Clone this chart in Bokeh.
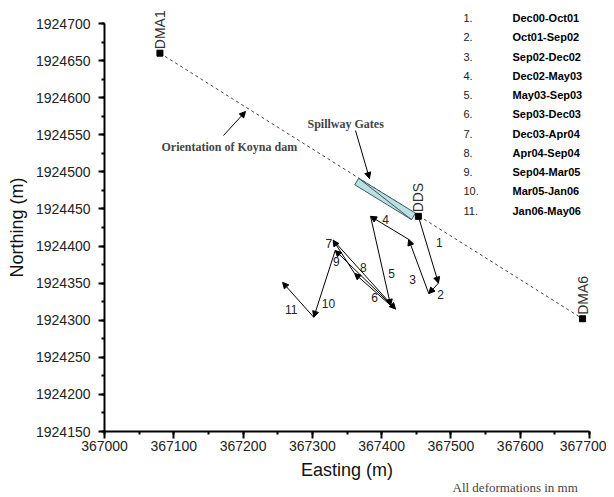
import numpy as np
from bokeh.plotting import figure
from bokeh.models import (Arrow, NormalHead, Label, ColumnDataSource, Range1d,
                          SingleIntervalTicker, BasicTickFormatter)
from bokeh.embed import file_html
from bokeh.resources import INLINE

# ---------------- data ----------------
periods = ["Dec00-Oct01", "Oct01-Sep02", "Sep02-Dec02", "Dec02-May03", "May03-Sep03",
           "Sep03-Dec03", "Dec03-Apr04", "Apr04-Sep04", "Sep04-Mar05", "Mar05-Jan06",
           "Jan06-May06"]
station_names = ["DMA1", "DDS", "DMA6"]
station_e = [367080, 367453, 367690]
station_n = [1924660, 1924440, 1924302]
dam_e = [367080, 367690]
dam_n = [1924660, 1924302]
spill_e = [367364, 367446]
spill_n = [1924487, 1924440]
# cumulative displacement path of DDS (start = DDS)
path_e = [367453, 367482, 367468, 367439, 367384, 367413, 367361, 367330, 367420, 367333, 367302, 367257]
path_n = [1924440, 1924350, 1924336, 1924409, 1924440, 1924320, 1924363, 1924408, 1924315, 1924394, 1924304, 1924351]
x_ticks_interval = 100
y_ticks_interval = 50
X0, X1, Y0, Y1 = 367000, 367700, 1924150, 1924700   # axis extents

# ---------------- layout ----------------
W, H = 606, 495
AX_L, AX_R, AX_T, AX_B = 104, 589, 23, 431          # axis box in canvas px
kx = (AX_R - AX_L) / (X1 - X0)
ky = (AX_B - AX_T) / (Y1 - Y0)
xs = X0 - AX_L / kx
xe = xs + W / kx
yt = Y1 + AX_T / ky
yb = yt - H / ky

def px2d(px, py):
    return xs + px / kx, yt - py / ky

p = figure(width=W, height=H, x_range=Range1d(xs, xe), y_range=Range1d(yb, yt),
           output_backend="svg", toolbar_location=None,
           min_border_left=0, min_border_right=0, min_border_top=0, min_border_bottom=0)
p.xgrid.visible = False
p.ygrid.visible = False
p.outline_line_color = None
p.background_fill_color = "white"
p.border_fill_color = "white"

FONT = "Liberation Sans"
p.xaxis.ticker = SingleIntervalTicker(interval=x_ticks_interval, num_minor_ticks=2)
p.yaxis.ticker = SingleIntervalTicker(interval=y_ticks_interval, num_minor_ticks=2)
p.xaxis.formatter = BasicTickFormatter(use_scientific=False)
p.yaxis.formatter = BasicTickFormatter(use_scientific=False)
p.xaxis.axis_label = "Easting (m)"
p.yaxis.axis_label = "Northing (m)"
p.xaxis.fixed_location = Y0
p.yaxis.fixed_location = X0
p.xaxis.bounds = (X0, X1)
p.yaxis.bounds = (Y0, Y1)
for ax in (p.xaxis[0], p.yaxis[0]):
    ax.axis_line_color = "black"
    ax.axis_line_width = 2
    ax.major_tick_line_color = "black"
    ax.major_tick_line_width = 2
    ax.minor_tick_line_color = "black"
    ax.minor_tick_line_width = 2
    ax.major_tick_in = 0
    ax.minor_tick_in = 0
    ax.major_label_text_font = FONT
    ax.major_label_text_font_size = "14px"
    ax.major_label_text_color = "#222222"
    ax.axis_label_text_font = FONT
    ax.axis_label_text_font_size = "18px"
    ax.axis_label_text_font_style = "normal"
    ax.axis_label_text_color = "#111111"
p.xaxis.major_tick_out = 7
p.xaxis.minor_tick_out = 3
p.xaxis.major_label_standoff = 2
p.xaxis.axis_label_standoff = 6
p.yaxis.major_tick_out = 6
p.yaxis.minor_tick_out = 3
p.yaxis.major_label_standoff = 8
p.yaxis.axis_label_standoff = 6

# dam axis line
p.line(dam_e, dam_n, line_dash="3 3", line_color="#444444", line_width=1)

# spillway gates rectangle
fx = (np.array(spill_e) - X0) * kx
fy = (np.array(spill_n) - Y0) * ky
d = np.array([fx[1] - fx[0], fy[1] - fy[0]])
d = d / np.hypot(*d)
nrm = np.array([-d[1], d[0]]) * 3.8
cx = [fx[0] + nrm[0], fx[1] + nrm[0], fx[1] - nrm[0], fx[0] - nrm[0]]
cy = [fy[0] + nrm[1], fy[1] + nrm[1], fy[1] - nrm[1], fy[0] - nrm[1]]
ce = [X0 + v / kx for v in cx]
cn = [Y0 + v / ky for v in cy]
p.patch(ce, cn, fill_color="#bcdfe2", line_color="#3a5a5e", line_width=1)
p.line([ce[0], ce[2]], [cn[0], cn[2]], line_color="#3a5a5e", line_width=1)

# stations
p.scatter(station_e, station_n, marker="square", size=6, color="black")
for nm, e, n in zip(station_names, station_e, station_n):
    p.add_layout(Label(x=e, y=n, text=nm, angle=np.pi / 2, text_align="left",
                       text_baseline="middle", y_offset=4, text_font=FONT,
                       text_font_size="14px", text_color="#333333"))

# displacement vectors
src = ColumnDataSource(dict(x0=path_e[:-1], y0=path_n[:-1], x1=path_e[1:], y1=path_n[1:]))
p.add_layout(Arrow(end=NormalHead(size=6, fill_color="black", line_color="black", line_width=1),
                   x_start="x0", y_start="y0", x_end="x1", y_end="y1", source=src,
                   line_color="black", line_width=1))

# vector numbers (offsets in screen px from segment midpoints)
off_x = [11, 7, -6, -4, 11, 2, -15, -1, -29, 4, -7]
off_y = [-7, 6, 13, -8, 13, 8, -13, -7, -18, 20, 10]
mid_e = [(a + b) / 2 for a, b in zip(path_e[:-1], path_e[1:])]
mid_n = [(a + b) / 2 for a, b in zip(path_n[:-1], path_n[1:])]
p.text(mid_e, mid_n, text=[str(i + 1) for i in range(len(periods))],
       x_offset=off_x, y_offset=off_y, text_align="center", text_baseline="middle",
       text_font_size="12px", text_font={"value": FONT}, text_color="#222222")

# pointer annotations
SERIF = "Liberation Serif"
ox, oy = px2d(161, 146)
p.add_layout(Label(x=ox, y=oy, text="Orientation of Koyna dam", text_align="left",
                   text_baseline="middle", text_font=SERIF, text_font_size="12px",
                   text_font_style="bold"))
a0 = px2d(223, 135); a1 = px2d(245, 111)
p.add_layout(Arrow(end=NormalHead(size=6, fill_color="black", line_color="black"),
                   x_start=a0[0], y_start=a0[1], x_end=a1[0], y_end=a1[1],
                   line_color="black", line_width=1))
sx_, sy_ = px2d(307, 123)
p.add_layout(Label(x=sx_, y=sy_, text="Spillway Gates", text_align="left",
                   text_baseline="middle", text_font=SERIF, text_font_size="12px",
                   text_font_style="bold"))
b0 = px2d(355, 130); b1 = px2d(369, 178)
p.add_layout(Arrow(end=NormalHead(size=6, fill_color="black", line_color="black"),
                   x_start=b0[0], y_start=b0[1], x_end=b1[0], y_end=b1[1],
                   line_color="black", line_width=1))

# period legend
for i, per in enumerate(periods):
    py = 17.5 + 19.25 * i
    ne, nn = px2d(463, py)
    p.add_layout(Label(x=ne, y=nn, text=f"{i + 1}.", text_align="left", text_baseline="middle",
                       text_font=FONT, text_font_size="11px", text_color="#222222"))
    le, ln = px2d(512, py)
    p.add_layout(Label(x=le, y=ln, text=per, text_align="left", text_baseline="middle",
                       text_font=FONT, text_font_size="11px", text_font_style="bold",
                       text_color="black"))

ne, nn = px2d(452, 487)
p.add_layout(Label(x=ne, y=nn, text="All deformations in mm", text_align="left",
                   text_baseline="middle", text_font=SERIF, text_font_size="13px"))

open("out.html", "w").write(file_html(p, INLINE))
